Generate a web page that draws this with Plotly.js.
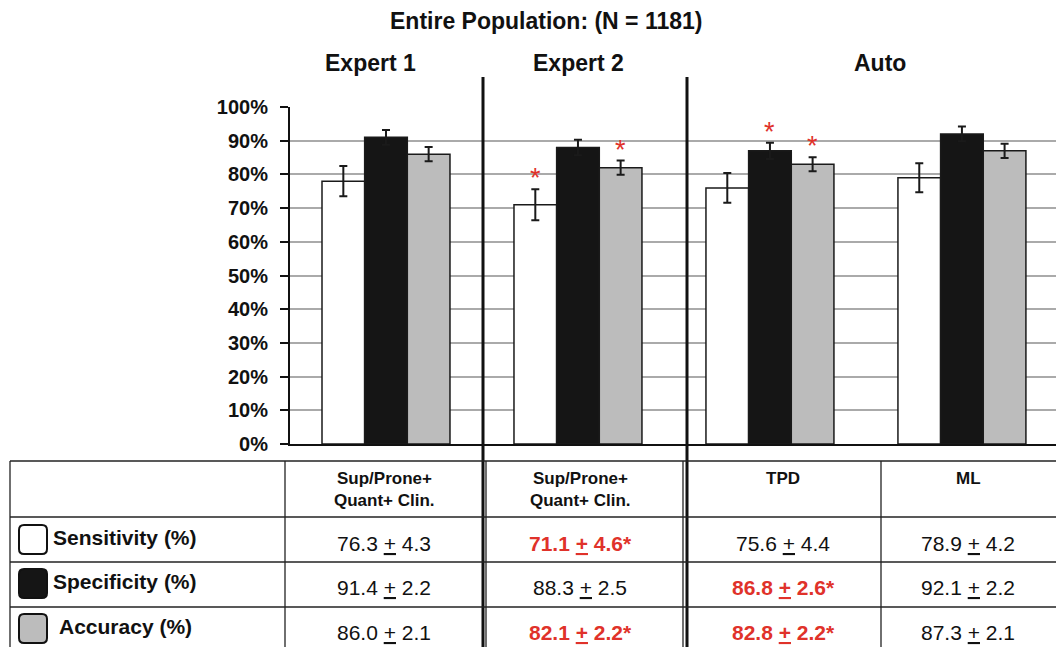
<!DOCTYPE html>
<html>
<head>
<meta charset="utf-8">
<script src="https://cdn.plot.ly/plotly-3.0.1.min.js"></script>
<style>html,body{margin:0;padding:0;background:#fff;}#chart{width:1056px;height:647px;}</style>
</head>
<body>
<div id="chart"></div>
<script>
// ---- data ----
const groups = ['Expert 1', 'Expert 2', 'TPD', 'ML'];
const sensitivity = [78, 71, 76, 79];
const sensitivityErr = [4.5, 4.6, 4.4, 4.3];
const specificity = [91, 88, 87, 92];
const specificityErr = [2.2, 2.3, 2.4, 2.2];
const accuracy = [86, 82, 83, 87];
const accuracyErr = [2.1, 2.1, 2.1, 2.1];

const tableHeaders = ['Sup/Prone+<br>Quant+ Clin.', 'Sup/Prone+<br>Quant+ Clin.', 'TPD', 'ML'];
const rowLabels = ['Sensitivity (%)', 'Specificity (%)', 'Accuracy (%)'];
const sensMean = [76.3, 71.1, 75.6, 78.9];
const sensSD = [4.3, 4.6, 4.4, 4.2];
const specMean = [91.4, 88.3, 86.8, 92.1];
const specSD = [2.2, 2.5, 2.6, 2.2];
const accMean = [86.0, 82.1, 82.8, 87.3];
const accSD = [2.1, 2.2, 2.2, 2.1];
const sensSig = [false, true, false, false];
const specSig = [false, false, true, false];
const accSig = [false, true, true, false];

const mainTitle = 'Entire Population: (N = 1181)';
const sectionTitles = ['Expert 1', 'Expert 2', 'Auto'];

// ---- layout helpers (pixel -> paper) ----
const W = 1056, H = 647, L = 290, T = 107, R = 0, B = 203;
const PW = W - L - R, PH = H - T - B;
const fx = x => (x - L) / PW;
const fy = y => (H - B - y) / PH;
const FONT = 'Liberation Sans, Arial, Helvetica, sans-serif';
const RED = '#e0322a';
const BLACK = '#151515';
const GRAY = '#bcbcbc';

const idx = groups.map((g, i) => i);
function barTrace(name, vals, errs, color) {
  return {
    type: 'bar', name: name, x: idx, y: vals,
    marker: {color: color, line: {color: '#1a1a1a', width: 1.5}},
    error_y: {type: 'data', array: errs, visible: true, color: '#1a1a1a', thickness: 2, width: 4},
    hoverinfo: 'skip'
  };
}
const data = [
  barTrace('Sensitivity', sensitivity, sensitivityErr, '#ffffff'),
  barTrace('Specificity', specificity, specificityErr, BLACK),
  barTrace('Accuracy', accuracy, accuracyErr, GRAY)
];

const shapes = [];
const annotations = [];
function note(x, y, text, size, color, xanchor) {
  annotations.push({x: fx(x), y: fy(y), xref: 'paper', yref: 'paper', text: text, showarrow: false,
    xanchor: xanchor || 'center', yanchor: 'middle', align: 'center',
    font: {family: FONT, size: size, color: color || '#111'}});
}

// significance stars above bars
const barOff = (1 - 1/3) / 3;
const series = [[sensitivity, sensitivityErr, sensSig], [specificity, specificityErr, specSig], [accuracy, accuracyErr, accSig]];
series.forEach((s, k) => {
  s[2].forEach((sig, i) => {
    if (!sig) return;
    annotations.push({x: i + (k - 1) * barOff, y: s[0][i] + s[1][i], xref: 'x', yref: 'y',
      text: '*', showarrow: false, xanchor: 'center', yanchor: 'bottom', yshift: -6,
      font: {family: FONT, size: 27, color: RED}});
  });
});

// titles
note(546, 21, '<b>' + mainTitle + '</b>', 23);
note(370, 63, '<b>' + sectionTitles[0] + '</b>', 23);
note(578, 63, '<b>' + sectionTitles[1] + '</b>', 23);
note(880, 63, '<b>' + sectionTitles[2] + '</b>', 23);

// divider lines
function line(x0, y0, x1, y1, w, c) {
  shapes.push({type: 'line', xref: 'paper', yref: 'paper', x0: fx(x0), y0: fy(y0), x1: fx(x1), y1: fy(y1),
    line: {color: c || '#111', width: w}});
}
line(483, 77, 483, 647, 3);
line(687, 77, 687, 647, 3);

// table grid
const rowsY = [461, 517, 562, 607];
rowsY.forEach(y => line(10, y, 1056, y, 1.3, '#222'));
line(10, 461, 10, 647, 1.3, '#222');
line(285, 461, 285, 647, 1.3, '#222');
line(486, 461, 486, 647, 1.3, '#222');
line(683, 461, 683, 647, 1.3, '#222');
line(881, 461, 881, 647, 1.3, '#222');

const colCenters = [384, 580, 783, 968];
tableHeaders.forEach((h, i) => {
  const lines = h.split('<br>');
  lines.forEach((t, j) => note(colCenters[i], 478 + j * 22, '<b>' + t + '</b>', 17));
});

// legend swatches & row labels
const swatchColors = ['#ffffff', BLACK, GRAY];
const rowMid = [539, 583, 628];
const labelX = [51, 51, 57];
function rounded(x0, y0, x1, y1, r) {
  const X = v => fx(v), Y = v => fy(v);
  return `M ${X(x0 + r)},${Y(y0)} L ${X(x1 - r)},${Y(y0)} Q ${X(x1)},${Y(y0)} ${X(x1)},${Y(y0 + r)} ` +
    `L ${X(x1)},${Y(y1 - r)} Q ${X(x1)},${Y(y1)} ${X(x1 - r)},${Y(y1)} L ${X(x0 + r)},${Y(y1)} ` +
    `Q ${X(x0)},${Y(y1)} ${X(x0)},${Y(y1 - r)} L ${X(x0)},${Y(y0 + r)} Q ${X(x0)},${Y(y0)} ${X(x0 + r)},${Y(y0)} Z`;
}
rowLabels.forEach((lab, r) => {
  shapes.push({type: 'path', xref: 'paper', yref: 'paper', path: rounded(19, rowMid[r] - 14, 47, rowMid[r] + 15, 5),
    fillcolor: swatchColors[r], line: {color: '#111', width: 2}});
  note(labelX[r], rowMid[r] - 2, '<b>' + lab + '</b>', 21, '#111', 'left');
});

// table values
const tableRows = [[sensMean, sensSD, sensSig], [specMean, specSD, specSig], [accMean, accSD, accSig]];
tableRows.forEach((row, r) => {
  row[0].forEach((m, i) => {
    const sig = row[2][i];
    let txt = m.toFixed(1) + ' <u>+</u> ' + row[1][i].toFixed(1) + (sig ? '*' : '');
    if (sig) txt = '<b>' + txt + '</b>';
    note(colCenters[i], rowMid[r] + 4, txt, 21, sig ? RED : '#111');
  });
});

const layout = {
  width: W, height: H,
  margin: {l: L, r: R, t: T, b: B},
  paper_bgcolor: '#fff', plot_bgcolor: '#fff',
  showlegend: false,
  barmode: 'group', bargap: 1/3, bargroupgap: 0,
  xaxis: {range: [-0.5, 3.49], showticklabels: false, ticks: '', showgrid: false, zeroline: false,
    showline: true, linecolor: '#111', linewidth: 2, fixedrange: true},
  yaxis: {range: [0, 100], dtick: 10, ticksuffix: '%', ticks: 'outside', ticklen: 8, tickwidth: 2, tickcolor: '#111',
    ticklabelstandoff: 8,
    showline: true, linecolor: '#111', linewidth: 2, showgrid: true, gridcolor: '#aaaaaa', gridwidth: 2,
    zeroline: false, tickfont: {family: FONT, size: 20, color: '#111', weight: 'bold'}, fixedrange: true},
  shapes: shapes,
  annotations: annotations
};

Plotly.newPlot('chart', data, layout, {staticPlot: true, displayModeBar: false});
</script>
</body>
</html>
